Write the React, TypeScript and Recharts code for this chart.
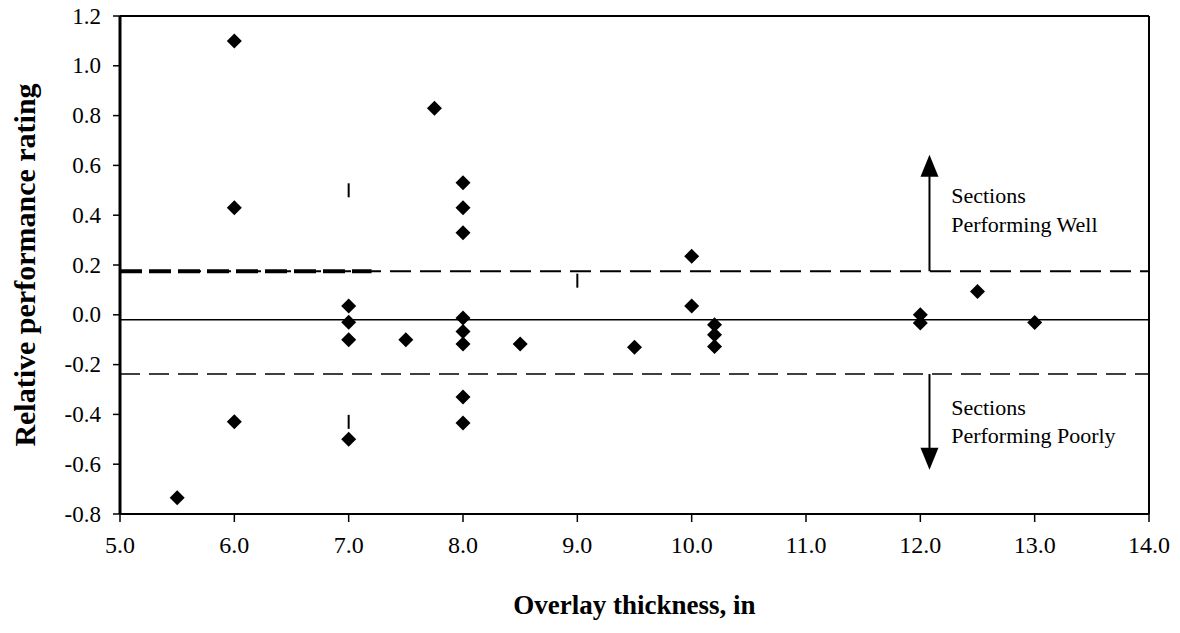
import React from "react"
import {
  ScatterChart,
  Scatter,
  XAxis,
  YAxis,
  ReferenceLine,
  ReferenceDot,
} from "recharts"

// overlay thickness (in) and relative performance rating of each section
const thickness = [
  5.5, 6.0, 6.0, 6.0, 7.0, 7.0, 7.0, 7.0, 7.5, 7.75,
  8.0, 8.0, 8.0, 8.0, 8.0, 8.0, 8.0, 8.0, 8.5, 9.5,
  10.0, 10.0, 10.2, 10.2, 10.2, 12.0, 12.0, 12.5, 13.0,
]
const rating = [
  -0.735, 1.1, 0.43, -0.43, 0.035, -0.03, -0.1, -0.5, -0.1, 0.83,
  0.53, 0.43, 0.33, -0.013, -0.067, -0.117, -0.33, -0.435, -0.117, -0.13,
  0.235, 0.035, -0.04, -0.08, -0.127, 0.0, -0.033, 0.094, -0.031,
]

// stray short vertical marks in the plot
const markX = [7.0, 9.0, 7.0]
const markY = [0.5, 0.137, -0.43]

const xTicks = [5, 6, 7, 8, 9, 10, 11, 12, 13, 14]
const yTicks = [-0.8, -0.6, -0.4, -0.2, 0, 0.2, 0.4, 0.6, 0.8, 1.0, 1.2]

const upperLimit = 0.175
const meanLine = -0.02
const lowerLimit = -0.238

const arrowX = 12.08
const arrowTips = [0.643, -0.622]

const points = thickness.map((x, i) => ({ x, y: rating[i] }))
const marks = markX.map((x, i) => ({ x, y: markY[i] }))
const tips = arrowTips.map((y) => ({ x: arrowX, y, dir: y > 0 ? 1 : -1 }))

const serif = "'Liberation Serif', 'Times New Roman', serif"

const Diamond = ({ cx, cy }: any) => (
  <polygon
    points={`${cx},${cy - 7.5} ${cx + 7.5},${cy} ${cx},${cy + 7.5} ${cx - 7.5},${cy}`}
    fill="#000"
  />
)

const Mark = ({ cx, cy }: any) => (
  <line x1={cx} x2={cx} y1={cy - 7} y2={cy + 7} stroke="#000" strokeWidth={2} />
)

const ArrowHead = ({ cx, cy, payload }: any) => {
  const d = payload.dir
  return (
    <polygon
      points={`${cx},${cy} ${cx - 9},${cy + d * 22} ${cx + 9},${cy + d * 22}`}
      fill="#000"
    />
  )
}

const XTick = ({ x, y, payload }: any) => (
  <text
    x={x}
    y={y + 9}
    textAnchor="middle"
    dominantBaseline="central"
    style={{ fontFamily: serif, fontSize: 24, fill: "#000" }}
  >
    {Number(payload.value).toFixed(1)}
  </text>
)

const YTick = ({ x, y, payload }: any) => (
  <text
    x={x}
    y={y}
    textAnchor="end"
    dominantBaseline="central"
    style={{ fontFamily: serif, fontSize: 23, fill: "#000" }}
  >
    {Number(payload.value).toFixed(1)}
  </text>
)

const YTitle = ({ viewBox }: any) => {
  const cx = 24
  const cy = viewBox ? viewBox.y + viewBox.height / 2 : 263
  return (
    <text
      x={cx}
      y={cy}
      transform={`rotate(-90 ${cx} ${cy})`}
      textAnchor="middle"
      dominantBaseline="central"
      style={{ fontFamily: serif, fontWeight: "bold", fontSize: 30, fill: "#000" }}
    >
      Relative performance rating
    </text>
  )
}

const XTitle = ({ viewBox }: any) => {
  const cx = viewBox ? viewBox.x + viewBox.width / 2 : 635
  return (
    <text
      x={cx}
      y={605}
      textAnchor="middle"
      dominantBaseline="central"
      style={{ fontFamily: serif, fontWeight: "bold", fontSize: 27, fill: "#000" }}
    >
      Overlay thickness, in
    </text>
  )
}

const noteStyle = { fill: "#000", fontSize: 22, fontFamily: serif }

export default function App() {
  return (
    <div style={{ position: "absolute", left: 0, top: 0, background: "#fff", fontFamily: serif }}>
      <ScatterChart
        width={1180}
        height={633}
        margin={{ top: 16, right: 31, bottom: 19, left: 0 }}
      >
        <XAxis
          type="number"
          dataKey="x"
          domain={[5, 14]}
          ticks={xTicks}
          interval={0}
          allowDataOverflow
          height={100}
          tickSize={8}
          tickMargin={14}
          tick={XTick}
          axisLine={{ stroke: "#000", strokeWidth: 2 }}
          tickLine={{ stroke: "#000", strokeWidth: 1.5 }}
          label={XTitle}
        />
        <YAxis
          type="number"
          dataKey="y"
          domain={[-0.8, 1.2]}
          ticks={yTicks}
          interval={0}
          allowDataOverflow
          width={120}
          tickSize={7}
          tickMargin={12}
          tick={YTick}
          axisLine={{ stroke: "#000", strokeWidth: 3 }}
          tickLine={{ stroke: "#000", strokeWidth: 1.5 }}
          label={YTitle}
        />
        {/* frame */}
        <ReferenceLine y={1.2} stroke="#000" strokeWidth={2} />
        <ReferenceLine x={14} stroke="#000" strokeWidth={2} />

        {/* limits and mean */}
        <ReferenceLine y={upperLimit} stroke="#000" strokeWidth={2} strokeDasharray="21 9" />
        <ReferenceLine
          segment={[{ x: 5, y: upperLimit }, { x: 7.2, y: upperLimit }]}
          stroke="#000"
          strokeWidth={4}
          strokeDasharray="22 7"
        />
        <ReferenceLine y={meanLine} stroke="#000" strokeWidth={1.5} />
        <ReferenceLine y={lowerLimit} stroke="#000" strokeWidth={1.6} strokeDasharray="20 9" />

        {/* arrows */}
        <ReferenceLine
          segment={[{ x: arrowX, y: upperLimit }, { x: arrowX, y: arrowTips[0] - 0.05 }]}
          stroke="#000"
          strokeWidth={2}
        />
        <ReferenceLine
          segment={[{ x: arrowX, y: lowerLimit }, { x: arrowX, y: arrowTips[1] + 0.05 }]}
          stroke="#000"
          strokeWidth={2}
        />
        <Scatter data={tips} shape={ArrowHead} isAnimationActive={false} />

        <ReferenceDot x={12.27} y={0.48} r={0} stroke="none"
          label={{ value: "Sections", position: "right", offset: 0, ...noteStyle }} />
        <ReferenceDot x={12.27} y={0.365} r={0} stroke="none"
          label={{ value: "Performing Well", position: "right", offset: 0, ...noteStyle }} />
        <ReferenceDot x={12.27} y={-0.37} r={0} stroke="none"
          label={{ value: "Sections", position: "right", offset: 0, ...noteStyle }} />
        <ReferenceDot x={12.27} y={-0.485} r={0} stroke="none"
          label={{ value: "Performing Poorly", position: "right", offset: 0, ...noteStyle }} />

        <Scatter data={marks} shape={Mark} isAnimationActive={false} />
        <Scatter data={points} shape={Diamond} isAnimationActive={false} />
      </ScatterChart>
    </div>
  )
}
